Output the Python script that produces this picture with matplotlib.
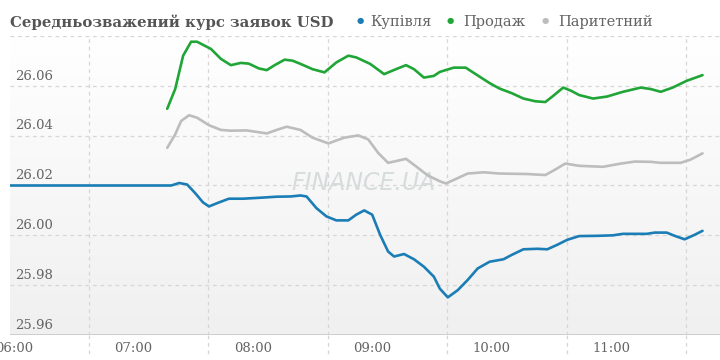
import numpy as np
import matplotlib.pyplot as plt
from matplotlib.colors import LinearSegmentedColormap
from matplotlib.transforms import blended_transform_factory

# data
buy_times = ["05:58", "07:19", "07:23", "07:27", "07:31", "07:35", "07:38", "07:43", "07:48", "07:55",
             "08:04", "08:12", "08:19", "08:24", "08:27", "08:32", "08:37", "08:42", "08:48", "08:52",
             "08:56", "09:00", "09:04", "09:08", "09:11", "09:16", "09:21", "09:26", "09:31", "09:34",
             "09:38", "09:43", "09:48", "09:53", "09:59", "10:06", "10:10", "10:16", "10:23", "10:28",
             "10:33", "10:38", "10:44", "10:53", "11:01", "11:06", "11:18", "11:22", "11:28", "11:32",
             "11:37", "11:42", "11:46"]
buy_values = [26.020, 26.020, 26.021, 26.0204, 26.017, 26.0132, 26.0116, 26.0132, 26.0147, 26.0147,
              26.0151, 26.0155, 26.0156, 26.0160, 26.0156, 26.0109, 26.0076, 26.0060, 26.0060, 26.0083,
              26.0100, 26.0083, 26.0002, 25.9935, 25.9915, 25.9925, 25.9904, 25.9874, 25.9834, 25.9786,
              25.9751, 25.9780, 25.9821, 25.9867, 25.9894, 25.9904, 25.9921, 25.9944, 25.9946, 25.9944,
              25.9962, 25.9982, 25.9997, 25.9998, 26.0000, 26.0006, 26.0006, 26.0011, 26.0011, 25.9998,
              25.9984, 26.0002, 26.0018]

sell_times = ["07:17", "07:21", "07:25", "07:29", "07:32", "07:39", "07:44", "07:49", "07:54", "07:58",
              "08:03", "08:07", "08:11", "08:16", "08:20", "08:24", "08:30", "08:36", "08:42", "08:48",
              "08:52", "08:59", "09:06", "09:12", "09:17", "09:21", "09:26", "09:31", "09:34", "09:41",
              "09:47", "09:52", "09:59", "10:04", "10:10", "10:16", "10:22", "10:27", "10:31", "10:36",
              "10:40", "10:44", "10:51", "10:58", "11:06", "11:15", "11:20", "11:25", "11:31", "11:38",
              "11:46"]
sell_values = [26.0508, 26.0587, 26.0721, 26.0777, 26.0777, 26.0748, 26.0708, 26.0683, 26.0692, 26.0689,
               26.0670, 26.0663, 26.0683, 26.0705, 26.0701, 26.0688, 26.0667, 26.0654, 26.0694, 26.0721,
               26.0714, 26.0688, 26.0647, 26.0667, 26.0683, 26.0667, 26.0633, 26.0640, 26.0656, 26.0673,
               26.0673, 26.0647, 26.0611, 26.0589, 26.0571, 26.0549, 26.0538, 26.0535, 26.0560, 26.0593,
               26.0580, 26.0563, 26.0549, 26.0557, 26.0576, 26.0593, 26.0587, 26.0576, 26.0593, 26.0620,
               26.0643]

par_times = ["07:17", "07:21", "07:24", "07:28", "07:32", "07:38", "07:44", "07:49", "07:57", "08:02",
             "08:07", "08:12", "08:17", "08:24", "08:30", "08:38", "08:46", "08:53", "08:58", "09:03",
             "09:08", "09:12", "09:17", "09:22", "09:28", "09:34", "09:37", "09:42", "09:48", "09:56",
             "10:04", "10:18", "10:27", "10:32", "10:37", "10:44", "10:56", "11:05", "11:12", "11:20",
             "11:25", "11:35", "11:40", "11:46"]
par_values = [26.0351, 26.0405, 26.0459, 26.0482, 26.0472, 26.0442, 26.0423, 26.0420, 26.0421, 26.0415,
              26.0409, 26.0423, 26.0436, 26.0423, 26.0392, 26.0369, 26.0392, 26.0401, 26.0385, 26.0331,
              26.0291, 26.0298, 26.0307, 26.0277, 26.0240, 26.0217, 26.0208, 26.0226, 26.0248, 26.0253,
              26.0248, 26.0246, 26.0242, 26.0264, 26.0288, 26.0279, 26.0275, 26.0288, 26.0296, 26.0295,
              26.0291, 26.0291, 26.0304, 26.0329]

tick_hours = ["06:00", "07:00", "08:00", "09:00", "10:00", "11:00"]
y_ticks = [25.96, 25.98, 26.00, 26.02, 26.04, 26.06]

series_names = ["Купівля", "Продаж", "Паритетний"]
colors = ["#1b7db5", "#20a537", "#bdbdbd"]


def to_hours(s):
    h, m = s.split(":")
    return int(h) + int(m) / 60


text_col = "#646464"
grid_col = "#d6d6d6"
plt.rcParams["font.family"] = ["DejaVu Serif"]

fig = plt.figure(figsize=(7.2, 3.6), dpi=100)
ax = fig.add_axes([10 / 720, 25 / 360, 710 / 720, 299 / 360])
ax.set_xlim(to_hours("05:58"), 11.913)
ax.set_ylim(25.96, 26.08)

# background gradient, white at top, light gray at bottom
grad = np.linspace(0, 1, 200).reshape(-1, 1)
bg_cmap = LinearSegmentedColormap.from_list("bg", ["#ffffff", "#f0f0f0"])
ax.imshow(grad, extent=[0, 1, 0, 1], transform=ax.transAxes, aspect="auto", cmap=bg_cmap, zorder=0)

for s in ax.spines.values():
    s.set_visible(False)
ax.axhline(25.96, color="#c8c8c8", lw=1.2, zorder=1)

for v in y_ticks[1:] + [26.08]:
    ax.axhline(v, color=grid_col, lw=0.9, ls=(0, (3, 3)), zorder=1)

xt = blended_transform_factory(ax.transData, ax.transAxes)
grid_x = [to_hours(h) + 0.628 for h in tick_hours]
for gx in grid_x:
    ax.axvline(gx, color=grid_col, lw=0.9, ls=(0, (3, 3)), zorder=1)
    ax.plot([gx, gx], [0, -0.075], transform=xt, color=grid_col, lw=0.9, ls=(0, (3, 3)), clip_on=False)

ax.set_xticks([])
ax.set_yticks([])

trans = blended_transform_factory(ax.transAxes, ax.transData)
for v in y_ticks:
    ax.text(5 / 710, v + 0.0013, f"{v:.2f}", transform=trans, ha="left", va="bottom",
            fontsize=9.5, color=text_col, zorder=2)

for h in tick_hours:
    ax.text(to_hours(h), -0.045, h, transform=xt, ha="center", va="center",
            fontsize=9.5, color=text_col, clip_on=False)

# watermark
ax.text(0.498, 0.51, "FINANCE.UA", transform=ax.transAxes, ha="center", va="center",
        fontsize=17, style="italic", family="DejaVu Sans", fontweight="light",
        color="#d6dcdc", zorder=2)

for times, vals, c in zip([buy_times, sell_times, par_times],
                          [buy_values, sell_values, par_values], colors):
    ax.plot([to_hours(t) for t in times], vals, color=c, lw=1.9, zorder=3,
            solid_joinstyle="round", solid_capstyle="round")

# title + legend
fig.text(10 / 720, 1 - 22 / 360, "Середньозважений курс заявок USD", ha="left", va="center",
         fontsize=10.7, fontweight="bold", color="#555555")
leg_x = [(360, 370), (450, 463), (545, 558)]
for (dx, tx), name, c in zip(leg_x, series_names, colors):
    fig.text(dx / 720, 1 - 21 / 360, "●", ha="center", va="center", fontsize=6, color=c,
             family="DejaVu Sans")
    fig.text(tx / 720, 1 - 22 / 360, name, ha="left", va="center", fontsize=10.5, color=text_col)

fig.savefig("out.png", dpi=100)
